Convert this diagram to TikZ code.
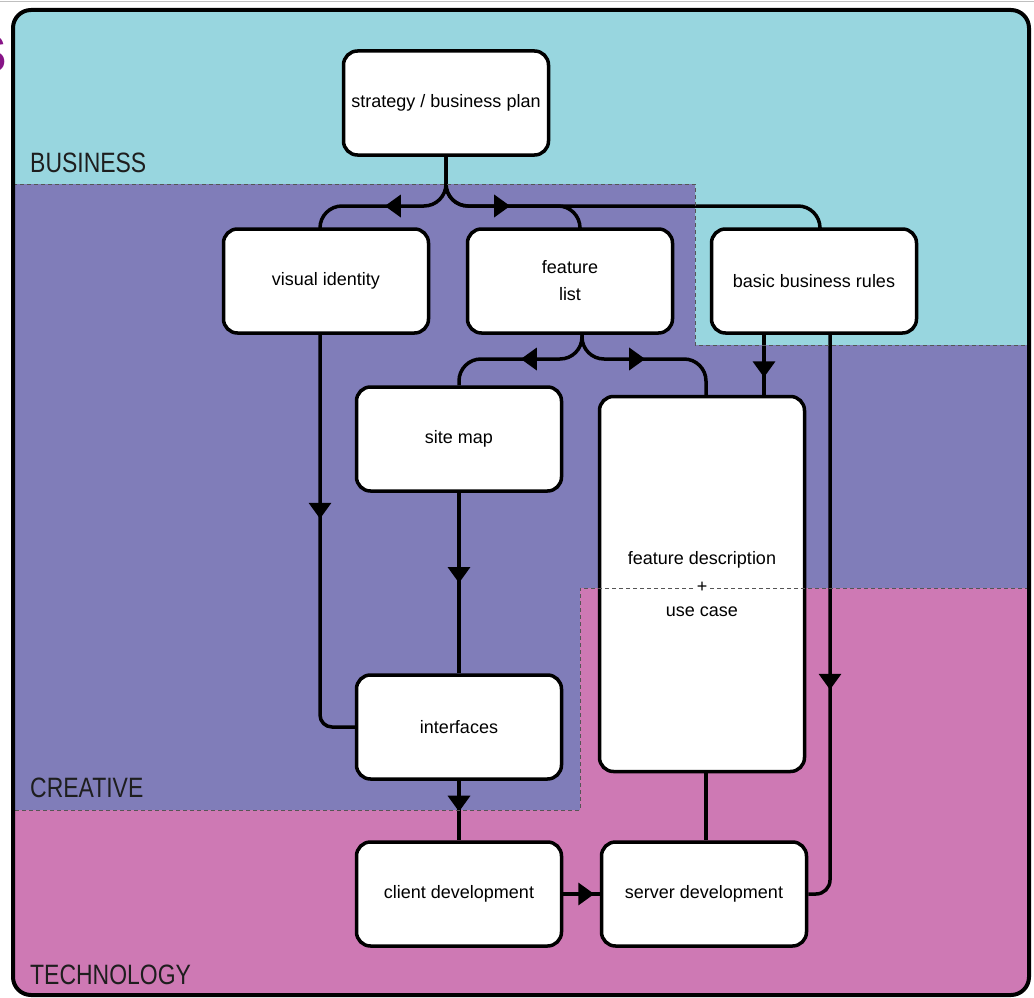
\documentclass[tikz,border=0pt]{standalone}
\usepackage{fontspec}
\setmainfont{Liberation Sans}
\newfontfamily\regionfont[FakeStretch=0.82]{Liberation Sans}
\usetikzlibrary{arrows.meta,decorations.markings,calc}
\definecolor{bizcyan}{RGB}{152,214,223}
\definecolor{crepurple}{RGB}{128,125,185}
\definecolor{techpink}{RGB}{206,121,180}
\definecolor{dashgray}{RGB}{85,85,85}
\definecolor{titlepurple}{RGB}{135,20,135}
\definecolor{labelgray}{RGB}{30,30,30}
\tikzset{
 box/.style={draw=black, line width=3.5pt, fill=white, rounded corners=14pt, minimum width=205pt, minimum height=104pt, inner sep=0pt, align=center, font=\fontsize{18}{27}\selectfont},
 conn/.style={draw=black, line width=3.5pt},
 arrowat/.style={postaction={decorate}, decoration={markings, mark=at position #1 with {\arrow{Triangle[length=16pt,width=22pt]}}}},
 region/.style={font=\regionfont\fontsize{28}{28}\selectfont, anchor=base west, inner sep=0pt, text=labelgray},
 zone/.style={draw=dashgray, line width=1pt, dash pattern=on 4pt off 3pt},
}
\begin{document}
\begin{tikzpicture}[x=1pt,y=-1pt]
\useasboundingbox (0,0) rectangle (1034,998);
\fill[white] (0,0) rectangle (1034,998);
\draw[gray!50, line width=1.5pt] (0,1.5) -- (1034,1.5);
% clipped title fragment
\begin{scope}
\clip (0,0) rectangle (7,100);
\node[anchor=base east, inner sep=0pt, text=titlepurple, font=\bfseries\fontsize{53}{53}\selectfont] (title) at (7,73) {S};
\end{scope}
% zones
\begin{scope}
\clip[rounded corners=18pt] (13,10) rectangle (1029,995);
\fill[bizcyan] (0,0) rectangle (1034,998);
\fill[crepurple] (13,184) -- (695,184) -- (695,345) -- (1029,345) -- (1029,588) -- (580,588) -- (580,810) -- (13,810) -- cycle;
\fill[techpink] (13,810) -- (580,810) -- (580,588) -- (1029,588) -- (1029,998) -- (13,998) -- cycle;
\end{scope}
\node[region] (biz) at (30,172) {BUSINESS};
\node[region] (cre) at (30,797) {CREATIVE};
\node[region] (tech) at (30,984) {TECHNOLOGY};
% boxes
\node[box] (strat) at (446,103) {strategy / business plan};
\node[box] (vis) at (326,281) {visual identity};
\node[box] (feat) at (570,281) {feature\\list};
\node[box] (rules) at (814,281) {basic business rules};
\node[box] (site) at (459,439) {site map};
\node[box, minimum height=375pt, font=\fontsize{18}{26}\selectfont] (fd) at (702,584) {feature description\\\strut\\use case};
\node[box] (intf) at (459,727) {interfaces};
\node[box] (client) at (459,894) {client development};
\node[box] (server) at (704,894) {server development};
% helper coordinates
\coordinate (j1) at (446,206);
\coordinate (j2) at (582,359);
\coordinate (visin) at ([xshift=-6pt]vis.north);
\coordinate (featin) at ([xshift=10pt]feat.north);
\coordinate (rulesin) at ([xshift=6pt]rules.north);
\coordinate (featout) at ([xshift=12pt]feat.south);
\coordinate (fdin) at ([xshift=4pt]fd.north);
\coordinate (rulesout1) at ([xshift=-50pt]rules.south);
\coordinate (rulesout2) at ([xshift=16pt]rules.south);
\coordinate (visout) at ([xshift=-6pt]vis.south);
\coordinate (fdout) at ([xshift=4pt]fd.south);
% connectors
\draw[conn, rounded corners=22pt] (strat.south) |- (rulesin |- j1) -- (rulesin);
\draw[conn, rounded corners=22pt, arrowat=101pt] (strat.south) |- (visin |- j1) -- (visin);
\draw[conn, rounded corners=22pt, arrowat=104pt] (strat.south) |- (featin |- j1) -- (featin);
\draw[conn, rounded corners=22pt, arrowat=76pt] (featout) |- (site.north |- j2) -- (site.north);
\draw[conn, rounded corners=22pt, arrowat=78pt] (featout) |- (fdin |- j2) -- (fdin);
\draw[conn, arrowat=0.71] (rulesout1) -- (rulesout1 |- fd.north);
\draw[conn, rounded corners=12pt, arrowat=184pt] (visout) |- (intf.west);
\draw[conn, arrowat=0.5] (site.south) -- (intf.north);
\draw[conn, arrowat=0.52] (intf.south) -- (client.north);
\draw[conn, arrowat=0.85] (client.east) -- (server.west);
\draw[conn] (fdout) -- (fdout |- server.north);
\draw[conn, rounded corners=14pt, arrowat=355pt] (rulesout2) |- (server.east);
% zone borders
\draw[zone] (13,184) -- (695,184) -- (695,345) -- (1029,345);
\draw[zone] (1029,588) -- (580,588) -- (580,810) -- (13,810);
\node[fill=white, inner sep=2pt, font=\fontsize{18}{18}\selectfont] (plus) at (702,587) {+};
% frame
\draw[line width=4pt, rounded corners=18pt] (13,10) rectangle (1029,995);
\end{tikzpicture}
\end{document}
